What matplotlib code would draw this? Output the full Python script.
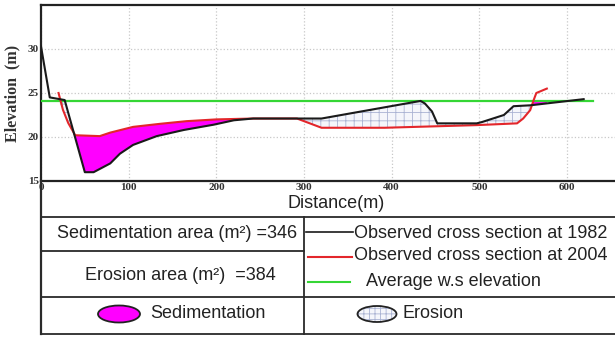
import numpy as np
import matplotlib
matplotlib.use("Agg")
import matplotlib.pyplot as plt
from matplotlib.patches import Ellipse

# cross section surveyed in 1982
dist_1982 = [0, 10, 27, 50, 60, 79, 90, 105, 132, 163, 197, 220, 242, 292, 320,
             433, 438, 446, 452, 497, 503, 528, 539, 558, 619]
elev_1982 = [30.3, 24.5, 24.2, 16.0, 16.0, 17.0, 18.1, 19.1, 20.1, 20.8, 21.4, 21.9, 22.1, 22.1, 22.1,
             24.1, 23.8, 22.9, 21.55, 21.55, 21.7, 22.5, 23.5, 23.6, 24.3]

# cross section surveyed in 2004
dist_2004 = [20, 25, 31, 39, 67, 79, 105, 136, 166, 200, 242, 292, 320, 392,
             497, 543, 550, 558, 562, 565, 577]
elev_2004 = [25.0, 23.1, 21.6, 20.2, 20.1, 20.5, 21.15, 21.5, 21.8, 22.0, 22.1, 22.1, 21.05, 21.05,
             21.35, 21.55, 22.1, 23.05, 24.2, 25.0, 25.5]

# average water surface elevation
ws_dist = [0, 630]
ws_elev = [24.1, 24.1]

x_ticks = [0, 100, 200, 300, 400, 500, 600]
y_ticks = [15, 20, 25, 30]
sed_area = 346
ero_area = 384

MAGENTA = "#ff00ff"
HATCH_COL = "#aab3d3"
HATCH_FACE = "#f5f6fb"

plt.rcParams["hatch.linewidth"] = 0.6

W, H = 615, 338
fig = plt.figure(figsize=(W / 100, H / 100), dpi=100)

# main plot, right edge runs past the figure like in the source image
ax = fig.add_axes([41 / W, (H - 181) / H, 590 / W, 176 / H])
ax.set_xlim(0, 673)
ax.set_ylim(15, 35)

# fills between both surveys on a common grid (only below the water surface)
lo = max(dist_1982[0], dist_2004[0])
hi = min(dist_1982[-1], dist_2004[-1])
xs = np.union1d(dist_1982, dist_2004)
xs = xs[(xs >= lo) & (xs <= hi)]
b = np.interp(xs, dist_1982, elev_1982)
r = np.minimum(np.interp(xs, dist_2004, elev_2004), ws_elev[0])
ax.fill_between(xs, b, r, where=r >= b, interpolate=True, facecolor=MAGENTA, linewidth=0, zorder=2)
ax.fill_between(xs, b, r, where=b > r, interpolate=True, facecolor=HATCH_FACE,
                edgecolor=HATCH_COL, hatch="++", linewidth=0, zorder=2)

ax.plot(ws_dist, ws_elev, color="#35d635", lw=1.6, zorder=3)
ax.plot(dist_2004, elev_2004, color="#e3262b", lw=1.5, zorder=4)
ax.plot(dist_1982, elev_1982, color="#1a1a1a", lw=1.5, zorder=5)

ax.set_xticks(x_ticks)
ax.set_yticks(y_ticks)
ax.grid(True, color="#c8c8c8", linestyle=":", linewidth=0.9)
ax.tick_params(length=0, pad=1.5, labelsize=8, labelcolor="#333333")
for lab in ax.get_xticklabels() + ax.get_yticklabels():
    lab.set_family("Liberation Serif")
    lab.set_weight("bold")
for side in ["left", "top", "bottom"]:
    ax.spines[side].set_linewidth(1.6)
    ax.spines[side].set_color("#222222")
ax.spines["right"].set_visible(False)
ax.set_ylabel("Elevation  (m)", family="Liberation Serif", weight="bold", fontsize=11.5,
              color="#333333", labelpad=5)

# table underneath, drawn in pixel coordinates
tb = fig.add_axes([0, 0, 1, 1], zorder=10)
tb.set_xlim(0, W)
tb.set_ylim(H, 0)
tb.axis("off")
lc = "#2a2a2a"
lw = 1.3
for yy in [217, 297, 334]:
    tb.plot([41, W], [yy, yy], color=lc, lw=lw)
tb.plot([41, 304], [251, 251], color=lc, lw=lw)
tb.plot([41, 41], [181, 334], color=lc, lw=1.6)
tb.plot([304, 304], [217, 334], color=lc, lw=lw)

tf = dict(family="Liberation Sans", fontsize=13, color="#222222", va="center")
tb.text(336, 203, "Distance(m)", ha="center", **tf)
tb.text(177, 234, f"Sedimentation area (m²) ={sed_area}", ha="center", **tf)
tb.text(180, 275, f"Erosion area (m²)  ={ero_area}", ha="center", **tf)

# legend entries
tb.plot([306, 353], [232, 232], color="#1a1a1a", lw=1.2)
tb.text(354, 233, "Observed cross section at 1982", ha="left", **tf)
tb.plot([308, 352], [257, 257], color="#e3262b", lw=1.5)
tb.text(354, 256, "Observed cross section at 2004", ha="left", **tf)
tb.plot([308, 350], [282, 282], color="#35d635", lw=1.5)
tb.text(366, 281, "Average w.s elevation", ha="left", **tf)

tb.add_patch(Ellipse((119, 314), 42, 17, facecolor=MAGENTA, edgecolor="#222222", lw=1.3))
tb.text(150, 314, "Sedimentation", ha="left", **tf)
tb.add_patch(Ellipse((377, 314), 39, 16, facecolor=HATCH_FACE, edgecolor=HATCH_COL, hatch="+++", lw=0))
tb.add_patch(Ellipse((377, 314), 39, 16, facecolor="none", edgecolor="#222222", lw=1.3))
tb.text(403, 314, "Erosion", ha="left", **tf)

fig.savefig("out.png", dpi=100)
